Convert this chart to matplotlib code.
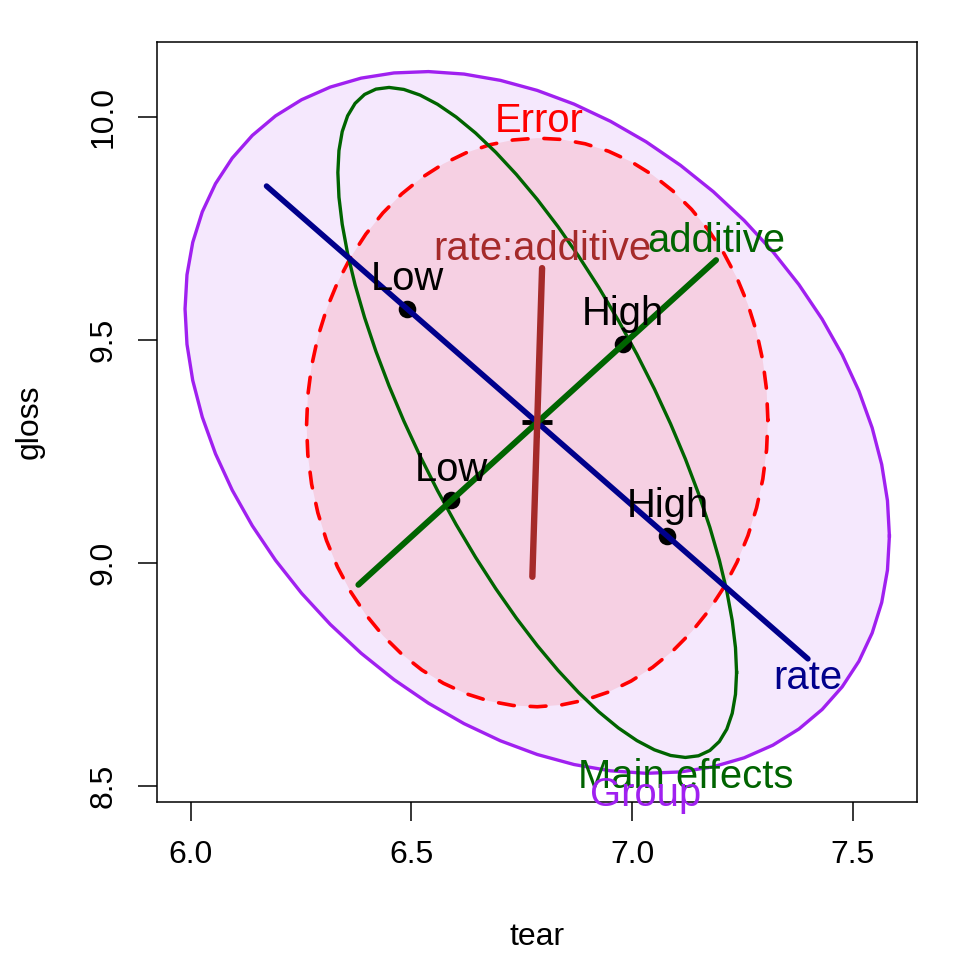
import numpy as np
import matplotlib
matplotlib.use("Agg")
import matplotlib.pyplot as plt

plt.rcParams['font.family'] = ['Liberation Sans', 'DejaVu Sans']

# ---- data ----
grand_mean = [6.785, 9.315]

rate_levels = ["Low", "High"]
rate_tear = [6.49, 7.08]
rate_gloss = [9.57, 9.06]

additive_levels = ["Low", "High"]
additive_tear = [6.59, 6.98]
additive_gloss = [9.14, 9.49]

# ellipse shape matrices (tear, gloss)
error_shape = [[0.2728, 0.0031], [0.0031, 0.4064]]
group_shape = [[0.636, -0.203], [-0.203, 0.619]]
main_shape = [[0.2038, -0.253], [-0.253, 0.5642]]

# degenerate (1 df) effects: half-vectors from the centre
rate_half = [-0.613, 0.530]
additive_half = [0.405, 0.364]
interaction_half = [0.011, 0.346]

xticks = [6.0, 6.5, 7.0, 7.5]
yticks = [8.5, 9.0, 9.5, 10.0]

# ---- colours ----
c_group = "#A020F0"
c_error = "#FF0000"
c_main = "#006400"
c_rate = "#00008B"
c_add = "#006400"
c_int = "#A52A2A"

fig = plt.figure(figsize=(9.6, 9.6), dpi=100)
ax = fig.add_axes([157/960, 1-802/960, 760/960, 760/960])
ax.set_xlim(5.924, 7.645)
ax.set_ylim(8.464, 10.168)

ctr = np.array(grand_mean)
t = np.linspace(0, 2*np.pi, 61)


def ellipse(shape):
    L = np.linalg.cholesky(np.array(shape))
    pts = (L @ np.vstack([np.cos(t), np.sin(t)])).T + ctr
    return pts


def top_point(shape):
    a, b, c = shape[0][0], shape[0][1], shape[1][1]
    return ctr + np.array([b/np.sqrt(c), np.sqrt(c)])


def bottom_point(shape):
    a, b, c = shape[0][0], shape[0][1], shape[1][1]
    return ctr - np.array([b/np.sqrt(c), np.sqrt(c)])


g = ellipse(group_shape)
e = ellipse(error_shape)
m = ellipse(main_shape)

ax.fill(g[:, 0], g[:, 1], color=c_group, alpha=0.1, lw=0, zorder=1)
ax.fill(e[:, 0], e[:, 1], color=c_error, alpha=0.1, lw=0, zorder=1)
ax.plot(g[:, 0], g[:, 1], color=c_group, lw=2.4, zorder=2)
ax.plot(e[:, 0], e[:, 1], color=c_error, lw=2.6, zorder=2,
        linestyle=(0, (4.4, 4.4)), dash_capstyle='round')
ax.plot(m[:, 0], m[:, 1], color=c_main, lw=2.4, zorder=2)

# centre cross
ax.plot([ctr[0]], [ctr[1]], marker='+', color='black', markersize=22,
        mew=3.5, zorder=3)

# group means
ax.scatter(rate_tear, rate_gloss, s=160, color='black', zorder=3, lw=0)
ax.scatter(additive_tear, additive_gloss, s=160, color='black', zorder=3, lw=0)


def effect_line(half, color, lw):
    h = np.array(half)
    p = np.vstack([ctr - h, ctr + h])
    ax.plot(p[:, 0], p[:, 1], color=color, lw=lw, solid_capstyle='round',
            zorder=4)


effect_line(rate_half, c_rate, 4.0)
effect_line(additive_half, c_add, 4.3)
effect_line(interaction_half, c_int, 4.6)

fs_lab = 28.8


def label(text, xy, dy, color, dx=0):
    ax.annotate(text, xy=xy, xytext=(dx, dy), textcoords='offset pixels',
                ha='center', va='baseline', color=color, fontsize=fs_lab,
                zorder=6)


for lv, x, y in zip(rate_levels, rate_tear, rate_gloss):
    label(lv, (x, y), 19, 'black')
for lv, x, y in zip(additive_levels, additive_tear, additive_gloss):
    label(lv, (x, y), 19, 'black')

label("Error", top_point(error_shape), 6, c_error)
label("Main effects", bottom_point(main_shape), -31, c_main)
label("Group", bottom_point(group_shape), -33, c_group, dx=-6)
label("rate", ctr - np.array(rate_half), -30, c_rate)
label("additive", ctr + np.array(additive_half), 8, c_add)
label("rate:additive", ctr + np.array(interaction_half), 8, c_int)

# axes styling
ax.set_xticks(xticks)
ax.set_yticks(yticks)
ax.set_xticklabels([f"{v:.1f}" for v in xticks])
ax.set_yticklabels([f"{v:.1f}" for v in yticks], rotation=90, va='center')
ax.tick_params(axis='both', length=13.7, width=1.1, labelsize=23,
               direction='out')
ax.tick_params(axis='x', pad=14)
ax.tick_params(axis='y', pad=14)
for s in ax.spines.values():
    s.set_linewidth(1.1)
ax.set_xlabel("tear", fontsize=23)
ax.set_ylabel("gloss", fontsize=23)
ax.xaxis.set_label_coords(0.5, -0.178)
ax.yaxis.set_label_coords(-0.168, 0.5)
ax.xaxis.label.set_va('center')
ax.yaxis.label.set_va('center')

fig.savefig("out.png", dpi=100)
